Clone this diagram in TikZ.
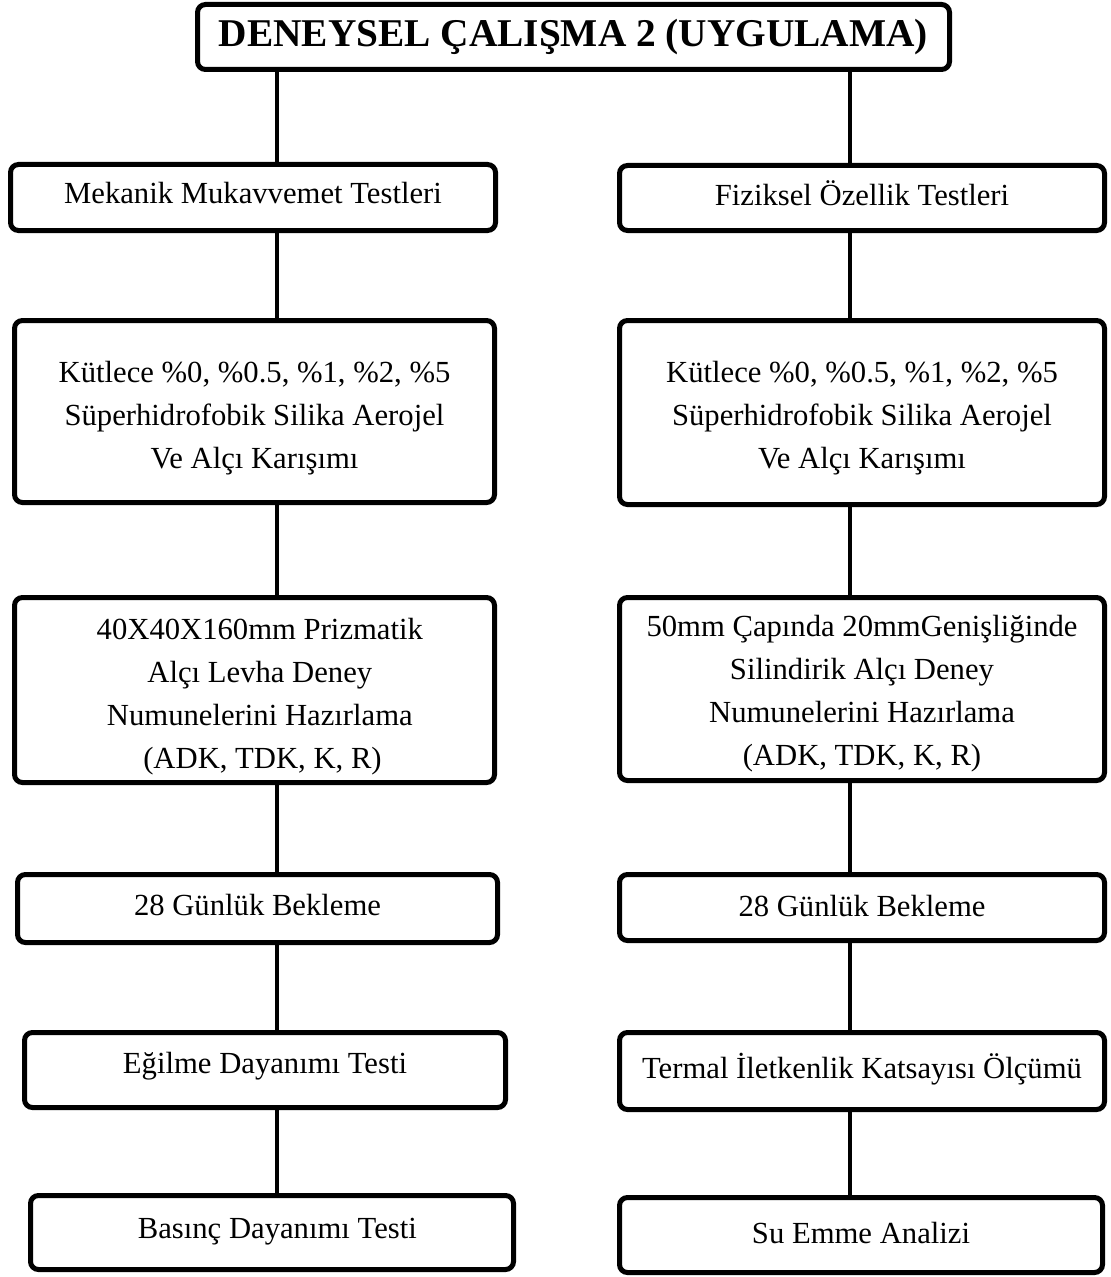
\documentclass[tikz,border=0pt]{standalone}
\usepackage{fontspec}
\setmainfont{Liberation Serif}
\newcommand{\vmove}[2]{\raisebox{#1}[\height][\depth]{#2}}
\newcommand{\mlines}[2]{\raisebox{#1}[\height][\depth]{\begin{tabular}{@{}c@{}}#2\end{tabular}}}
\begin{document}
\begin{tikzpicture}[x=0.75pt,y=-0.75pt,
  stepbox/.style 2 args={draw=black, line width=3.75pt, rounded corners=6pt,
    fill=white, inner sep=0pt, align=center,
    minimum width={(#1-5)*0.75pt}, minimum height={(#2-5)*0.75pt},
    font=\fontsize{23}{32.25}\selectfont},
  titlebox/.style 2 args={stepbox={#1}{#2}, font=\fontsize{29.5}{34}\selectfont\bfseries},
  link/.style={draw=black, line width=2.4pt}]
\useasboundingbox[fill=white] (0,0) rectangle (1110,1277);

\coordinate (cl) at (277,0);
\coordinate (cr) at (850,0);

\node[titlebox={757}{70}] (title) at (573.5,37) {DENEYSEL ÇALIŞMA 2 (UYGULAMA)};

% left column
\node[stepbox={490}{71}] (L1) at (253,197.5) {\vmove{3pt}{Mekanik Mukavvemet Testleri}};
\node[stepbox={485}{187}] (L2) at (254.5,411.5) {\mlines{-3.75pt}{Kütlece \%0, \%0.5, \%1, \%2, \%5\\Süperhidrofobik Silika Aerojel\\Ve Alçı Karışımı}};
\node[stepbox={485}{190}] (L3) at (254.5,690) {\mlines{-3.75pt}{\hspace*{8pt}40X40X160mm Prizmatik\\\hspace*{8pt}Alçı Levha Deney\\\hspace*{8pt}Numunelerini Hazırlama\\\hspace*{12pt}(ADK, TDK, K, R)}};
\node[stepbox={485}{73}] (L4) at (257.5,908.5) {\vmove{2.25pt}{28 Günlük Bekleme}};
\node[stepbox={486}{80}] (L5) at (265,1070) {\vmove{3pt}{Eğilme Dayanımı Testi}};
\node[stepbox={488}{79}] (L6) at (272,1232.5) {\vmove{0.75pt}{\hspace*{8pt}Basınç Dayanımı Testi}};

% right column
\node[stepbox={490}{70}] (R1) at (862,198) {\vmove{3.75pt}{Fiziksel Özellik Testleri}};
\node[stepbox={490}{189}] (R2) at (862,412.5) {\mlines{-3pt}{Kütlece \%0, \%0.5, \%1, \%2, \%5\\Süperhidrofobik Silika Aerojel\\Ve Alçı Karışımı}};
\node[stepbox={490}{188}] (R3) at (862,689) {\mlines{-2.25pt}{50mm Çapında 20mmGenişliğinde\\Silindirik Alçı Deney\\Numunelerini Hazırlama\\(ADK, TDK, K, R)}};
\node[stepbox={490}{71}] (R4) at (862,907.5) {\vmove{1.5pt}{28 Günlük Bekleme}};
\node[stepbox={490}{82}] (R5) at (862,1071) {\vmove{1.5pt}{Termal İletkenlik Katsayısı Ölçümü}};
\node[stepbox={488}{80}] (R6) at (861,1235) {\vmove{1.5pt}{Su Emme Analizi}};

% connectors
\draw[link] (title.south -| cl) -- (L1.north -| cl);
\draw[link] (title.south -| cr) -- (R1.north -| cr);
\draw[link] (L1.south -| cl) -- (L2.north -| cl);
\draw[link] (L2.south -| cl) -- (L3.north -| cl);
\draw[link] (L3.south -| cl) -- (L4.north -| cl);
\draw[link] (L4.south -| cl) -- (L5.north -| cl);
\draw[link] (L5.south -| cl) -- (L6.north -| cl);
\draw[link] (R1.south -| cr) -- (R2.north -| cr);
\draw[link] (R2.south -| cr) -- (R3.north -| cr);
\draw[link] (R3.south -| cr) -- (R4.north -| cr);
\draw[link] (R4.south -| cr) -- (R5.north -| cr);
\draw[link] (R5.south -| cr) -- (R6.north -| cr);
\end{tikzpicture}
\end{document}
